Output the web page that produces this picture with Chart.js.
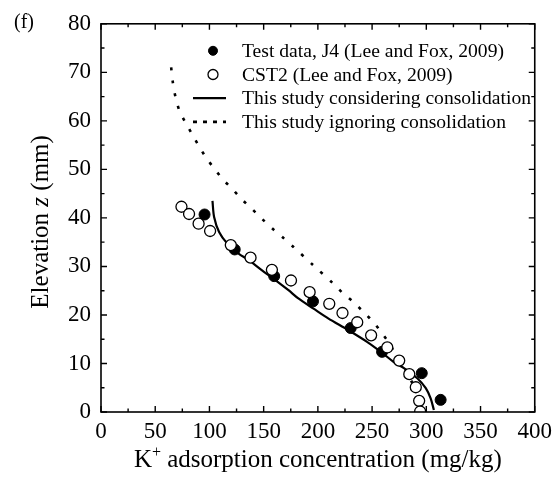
<!DOCTYPE html>
<html lang="en">
<head>
<meta charset="UTF-8">
<title>K+ adsorption profile</title>
<style>
  body { margin: 0; background: #fff; }
  #wrap { width: 558px; height: 480px; }
</style>
<script src="https://cdn.jsdelivr.net/npm/chart.js"></script>
</head>
<body>
<div id="wrap"><canvas id="chartCanvas" width="558" height="480"></canvas></div>
<script>
// Test data, J4 (Lee and Fox, 2009)
const j4X = [95.5, 123.3, 159.7, 195.5, 230.3, 259.2, 295.8, 313.2];
const j4Y = [40.7, 33.5, 28.0, 22.8, 17.3, 12.4, 8.0, 2.5];

// CST2 (Lee and Fox, 2009)
const cstX = [74.2, 81.2, 90.0, 100.6, 119.7, 137.9, 157.6, 175.2, 192.4, 210.5, 222.7, 236.3, 249.1, 264.0, 275.0, 284.3, 290.3, 293.4, 294.3];
const cstY = [42.3, 40.8, 38.8, 37.3, 34.4, 31.8, 29.3, 27.1, 24.7, 22.3, 20.4, 18.5, 15.8, 13.3, 10.6, 7.8, 5.1, 2.3, 0.1];

// This study considering consolidation
const consX = [102.8, 104.3, 108.9, 116.5, 127.2, 136.3, 148.5, 160.8, 172.9, 182, 196, 209.5, 227.8, 245, 259.8, 270, 279.7, 291.9, 299.5, 304, 307];
const consY = [43.5, 40.2, 37.1, 34.7, 32.6, 31.3, 29.2, 27.2, 25.1, 23.4, 21.3, 19.3, 16.9, 14.5, 12.1, 10.3, 9.0, 6.9, 4.9, 2.8, 0.4];

// This study ignoring consolidation
const ignX = [64.7, 66.2, 68.6, 72.3, 77.8, 83.9, 90, 96.7, 105, 113, 121, 130, 139, 148.5, 158, 168, 177.5, 195, 214, 223, 233, 243, 251.6, 259, 266, 272, 280, 286, 290];
const ignY = [71, 68, 65, 62.1, 59.7, 57.3, 54.9, 52.5, 50, 47.8, 46, 43.8, 41.9, 39.8, 37.8, 35.9, 34, 30.4, 26.5, 24.5, 22.6, 20.4, 18.4, 16.3, 14.1, 11.7, 9, 6.5, 4];

const seriesNames = [
  'Test data, J4 (Lee and Fox, 2009)',
  'CST2 (Lee and Fox, 2009)',
  'This study considering consolidation',
  'This study ignoring consolidation'
];

const xTicks = [0, 50, 100, 150, 200, 250, 300, 350, 400];
const yTicks = [0, 10, 20, 30, 40, 50, 60, 70, 80];

const SERIF = "'Liberation Serif', 'Times New Roman', serif";

function pts(xs, ys) {
  return xs.map((v, i) => ({ x: v, y: ys[i] }));
}

// frame, inward ticks, titles and legend
const framePlugin = {
  id: 'frame',
  afterDraw(chart) {
    const { ctx, chartArea: a, scales: { x, y } } = chart;
    ctx.save();
    ctx.strokeStyle = '#000';
    ctx.lineWidth = 1.6;
    ctx.strokeRect(a.left, a.top, a.right - a.left, a.bottom - a.top);

    ctx.lineWidth = 1.4;
    ctx.beginPath();
    for (let v = 0; v <= 400; v += 25) {
      const px = x.getPixelForValue(v);
      const len = v % 50 === 0 ? 6 : 3.5;
      ctx.moveTo(px, a.bottom); ctx.lineTo(px, a.bottom - len);
      ctx.moveTo(px, a.top); ctx.lineTo(px, a.top + len);
    }
    for (let v = 0; v <= 80; v += 5) {
      const py = y.getPixelForValue(v);
      const len = v % 10 === 0 ? 6 : 3.5;
      ctx.moveTo(a.left, py); ctx.lineTo(a.left + len, py);
      ctx.moveTo(a.right, py); ctx.lineTo(a.right - len, py);
    }
    ctx.stroke();

    // panel label
    ctx.fillStyle = '#000';
    ctx.font = '20px ' + SERIF;
    ctx.textAlign = 'left';
    ctx.textBaseline = 'alphabetic';
    ctx.fillText('(f)', 14, 28);

    // x title with superscript
    const cx = (a.left + a.right) / 2;
    ctx.font = '25px ' + SERIF;
    const wK = ctx.measureText('K').width;
    const rest = ' adsorption concentration (mg/kg)';
    const wR = ctx.measureText(rest).width;
    ctx.font = '16px ' + SERIF;
    const wP = ctx.measureText('+').width;
    let sx = cx - (wK + wP + wR) / 2;
    const by = 467;
    ctx.font = '25px ' + SERIF;
    ctx.fillText('K', sx, by);
    ctx.font = '16px ' + SERIF;
    ctx.fillText('+', sx + wK, by - 10);
    ctx.font = '25px ' + SERIF;
    ctx.fillText(rest, sx + wK + wP, by);

    // y title with italic z
    ctx.translate(48, (a.top + a.bottom) / 2 + 4);
    ctx.rotate(-Math.PI / 2);
    const p1 = 'Elevation ', p2 = 'z', p3 = ' (mm)';
    ctx.font = '25px ' + SERIF;
    const w1 = ctx.measureText(p1).width, w3 = ctx.measureText(p3).width;
    ctx.font = 'italic 25px ' + SERIF;
    const w2 = ctx.measureText(p2).width;
    let tx = -(w1 + w2 + w3) / 2;
    ctx.font = '25px ' + SERIF;
    ctx.fillText(p1, tx, 0);
    ctx.font = 'italic 25px ' + SERIF;
    ctx.fillText(p2, tx + w1, 0);
    ctx.font = '25px ' + SERIF;
    ctx.fillText(p3, tx + w1 + w2, 0);
    ctx.setTransform(1, 0, 0, 1, 0, 0);

    // legend
    const lx = a.left + 112, ly = a.top + 27, step = 23.7;
    ctx.font = '19.6px ' + SERIF;
    ctx.textBaseline = 'middle';
    chart.data.datasets.forEach((ds, i) => {
      const yy = ly + i * step;
      ctx.beginPath();
      if (ds.showLine) {
        ctx.strokeStyle = '#000';
        ctx.lineWidth = ds.borderWidth;
        ctx.setLineDash(ds.borderDash && ds.borderDash.length ? [4, 6] : []);
        ctx.moveTo(lx - 20, yy); ctx.lineTo(lx + 13, yy);
        ctx.stroke();
        ctx.setLineDash([]);
      } else {
        ctx.arc(lx, yy, ds.pointRadius - (i === 1 ? 0.5 : 1), 0, Math.PI * 2);
        ctx.fillStyle = ds.pointBackgroundColor;
        ctx.fill();
        ctx.lineWidth = ds.pointBorderWidth;
        ctx.strokeStyle = '#000';
        ctx.stroke();
      }
      ctx.fillStyle = '#000';
      ctx.fillText(ds.label, lx + 29, yy + 1);
    });
    ctx.restore();
  }
};

const ctx = document.getElementById('chartCanvas').getContext('2d');
new Chart(ctx, {
  type: 'scatter',
  data: {
    datasets: [
      {
        label: seriesNames[0],
        data: pts(j4X, j4Y),
        pointRadius: 5.5,
        pointBackgroundColor: '#000',
        pointBorderColor: '#000',
        pointBorderWidth: 1,
        showLine: false,
        order: 1
      },
      {
        label: seriesNames[1],
        data: pts(cstX, cstY),
        pointRadius: 5.5,
        pointBackgroundColor: '#fff',
        pointBorderColor: '#000',
        pointBorderWidth: 1.3,
        showLine: false,
        order: 0
      },
      {
        label: seriesNames[2],
        data: pts(consX, consY),
        showLine: true,
        borderColor: '#000',
        borderWidth: 2.2,
        pointRadius: 0,
        tension: 0.3,
        order: 2
      },
      {
        label: seriesNames[3],
        data: pts(ignX, ignY),
        showLine: true,
        borderColor: '#000',
        borderWidth: 2.6,
        borderDash: [3, 10],
        pointRadius: 0,
        tension: 0.3,
        order: 3
      }
    ]
  },
  options: {
    responsive: false,
    animation: false,
    layout: { padding: { left: 0, right: 20, top: 23, bottom: 0 } },
    plugins: { legend: { display: false }, tooltip: { enabled: false } },
    scales: {
      x: {
        type: 'linear',
        min: 0, max: 400,
        afterBuildTicks: s => { s.ticks = xTicks.map(v => ({ value: v })); },
        afterFit: s => { s.height = 68; },
        grid: { display: false, drawTicks: false },
        border: { display: false },
        ticks: { color: '#000', font: { family: SERIF, size: 23 }, padding: 6, maxRotation: 0 }
      },
      y: {
        type: 'linear',
        min: 0, max: 80,
        afterBuildTicks: s => { s.ticks = yTicks.map(v => ({ value: v })); },
        afterFit: s => { s.width = 101; },
        grid: { display: false, drawTicks: false },
        border: { display: false },
        ticks: { color: '#000', font: { family: SERIF, size: 23 }, padding: 10 }
      }
    }
  },
  plugins: [framePlugin]
});
</script>
</body>
</html>
